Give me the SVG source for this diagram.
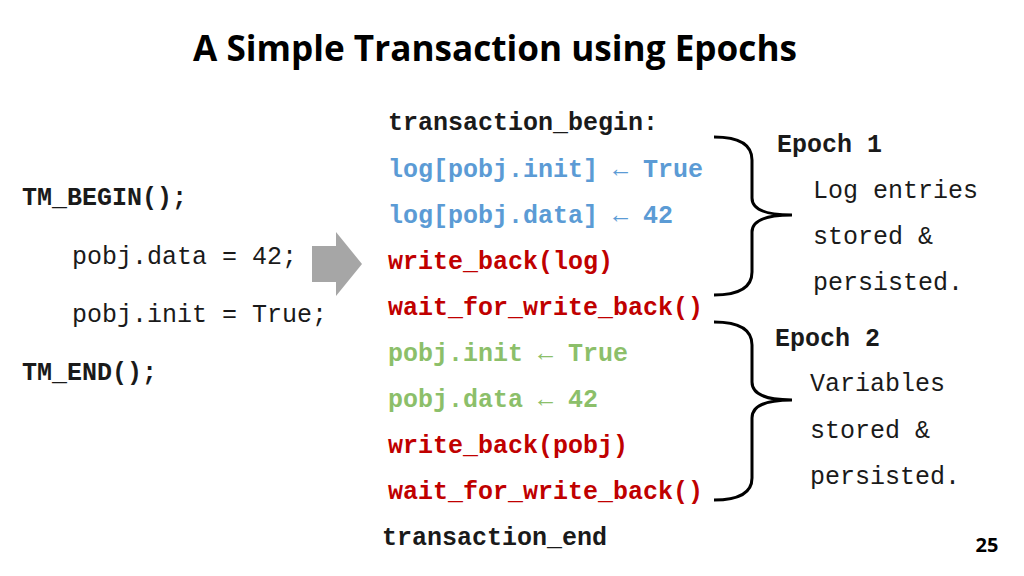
<svg xmlns="http://www.w3.org/2000/svg" width="1024" height="576" viewBox="0 0 1024 576">
<style>
.m{font-family:"Liberation Mono",monospace;font-size:25px}
.b{font-weight:bold}
.k{fill:#1a1a1a}.bl{fill:#5b9bd5}.r{fill:#c00000}.g{fill:#8cbf6a}
.br{fill:none;stroke:#000;stroke-width:3}
</style>
<rect width="1024" height="576" fill="#fff"/>
<text x="495" y="61" text-anchor="middle" font-family="Open Sans, sans-serif" font-weight="bold" font-size="35" fill="#000" textLength="604" lengthAdjust="spacingAndGlyphs">A Simple Transaction using Epochs</text>
<g id="source">
<text class="m b k" x="22" y="205">TM_BEGIN();</text>
<text class="m k" x="72" y="264">pobj.data = 42;</text>
<text class="m k" x="72" y="322">pobj.init = True;</text>
<text class="m b k" x="22" y="380">TM_END();</text>
</g>
<g id="arrow"><polygon points="312,246 336,246 336,232 362,264 336,296 336,282 312,282" fill="#a6a6a6"/></g>
<g id="code">
<text class="m b k" x="388" y="130">transaction_begin:</text>
<text class="m b bl" x="388" y="177">log[pobj.init] ← True</text>
<text class="m b bl" x="388" y="223">log[pobj.data] ← 42</text>
<text class="m b r" x="388" y="269">write_back(log)</text>
<text class="m b r" x="388" y="315">wait_for_write_back()</text>
<text class="m b g" x="388" y="361">pobj.init ← True</text>
<text class="m b g" x="388" y="407">pobj.data ← 42</text>
<text class="m b r" x="388" y="453">write_back(pobj)</text>
<text class="m b r" x="388" y="499">wait_for_write_back()</text>
<text class="m b k" x="382" y="545">transaction_end</text>
</g>
<g id="connectors">
<path class="br" d="M714,137 Q752,137 752,160 L752,198 Q752,215 792,215 Q752,215 752,232 L752,272 Q752,295 714,295"/>
<path class="br" d="M714,322 Q752,322 752,345 L752,382 Q752,400 792,400 Q752,400 752,418 L752,478 Q752,500 714,500"/>
</g>
<g id="epoch1">
<text class="m b k" x="777" y="152">Epoch 1</text>
<text class="m k" x="813" y="198">Log entries</text>
<text class="m k" x="813" y="244">stored &amp;</text>
<text class="m k" x="813" y="290">persisted.</text>
</g>
<g id="epoch2">
<text class="m b k" x="775" y="346">Epoch 2</text>
<text class="m k" x="810" y="391">Variables</text>
<text class="m k" x="810" y="438">stored &amp;</text>
<text class="m k" x="810" y="484">persisted.</text>
</g>
<text x="987" y="552" text-anchor="middle" font-family="Open Sans, sans-serif" font-weight="bold" font-size="20" fill="#000">25</text>
</svg>
